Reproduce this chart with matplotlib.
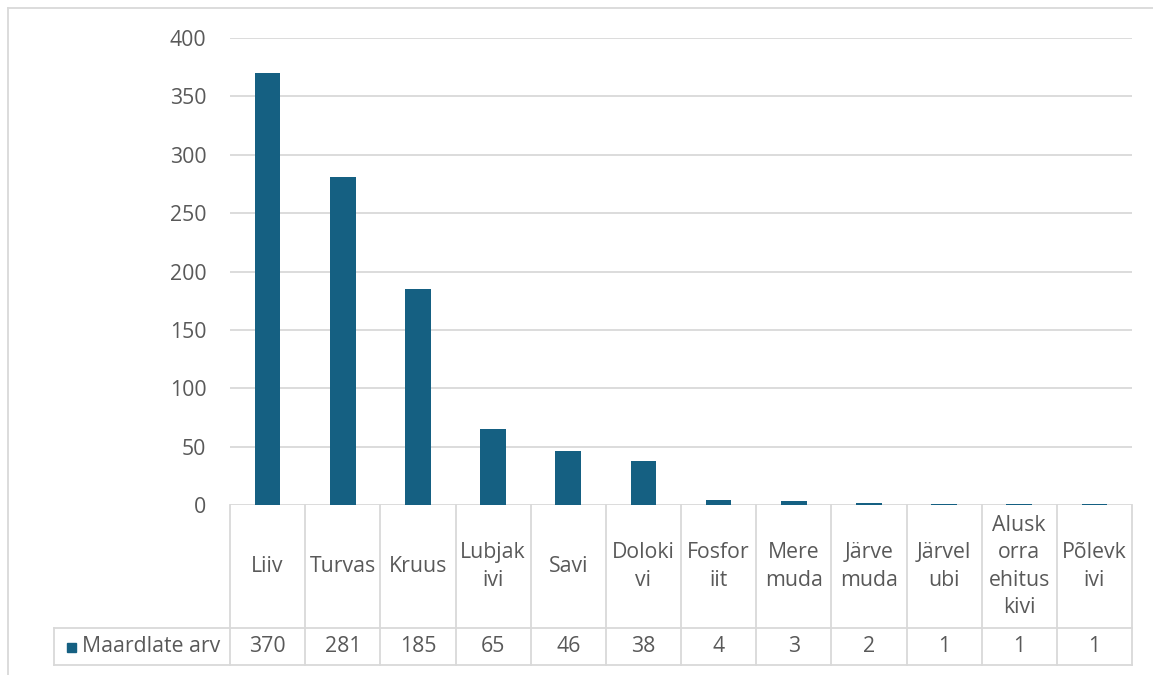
import matplotlib
matplotlib.use("Agg")
import matplotlib.pyplot as plt
from matplotlib.lines import Line2D
from matplotlib.patches import Rectangle

categories = ["Liiv", "Turvas", "Kruus", "Lubjak\nivi", "Savi", "Doloki\nvi", "Fosfor\niit",
              "Mere\nmuda", "Järve\nmuda", "Järvel\nubi", "Alusk\norra\nehitus\nkivi", "Põlevk\nivi"]
values = [370, 281, 185, 65, 46, 38, 4, 3, 2, 1, 1, 1]
series_name = "Maardlate arv"
yticks = [0, 50, 100, 150, 200, 250, 300, 350, 400]

W, H = 1153, 675
BAR = "#156082"
GRID = "#D9D9D9"
TXT = "#595959"
FONT = "Open Sans"
FS = 15.3

fig = plt.figure(figsize=(W / 100, H / 100), dpi=100)

def fx(px):
    return px / W

def fy(py):
    return 1 - py / H

left, right, top, bottom = 230, 1132, 38, 505
ax = fig.add_axes([fx(left), fy(bottom), fx(right) - fx(left), fy(top) - fy(bottom)])
n = len(categories)
x = list(range(n))
ax.bar(x, values, width=0.34, color=BAR, zorder=3)
ax.set_xlim(-0.5, n - 0.5)
ax.set_ylim(0, 400)
ax.set_yticks(yticks)
ax.set_yticklabels([str(t) for t in yticks], fontsize=FS, color=TXT, family=FONT)
ax.tick_params(axis="y", length=0, pad=17)
ax.set_xticks([])
for s in ax.spines.values():
    s.set_visible(False)
ax.grid(axis="y", color=GRID, linewidth=1.3, zorder=0)
ax.set_axisbelow(True)

# Outer chart border
fig.add_artist(Line2D([fx(8), fx(8)], [fy(8), fy(675)], color=GRID, lw=1.3))
fig.add_artist(Line2D([fx(8), fx(1153)], [fy(8), fy(8)], color=GRID, lw=1.3))

# Data table
row_top, row_mid, row_bot = 505, 628, 665
leg_left = 54
colw = (right - left) / n
for i in range(n + 1):
    xv = left + i * colw
    fig.add_artist(Line2D([fx(xv), fx(xv)], [fy(row_top), fy(row_bot)], color=GRID, lw=1.3))
fig.add_artist(Line2D([fx(leg_left), fx(right)], [fy(row_mid), fy(row_mid)], color=GRID, lw=1.3))
fig.add_artist(Line2D([fx(leg_left), fx(right)], [fy(row_bot), fy(row_bot)], color=GRID, lw=1.3))
fig.add_artist(Line2D([fx(leg_left), fx(leg_left)], [fy(row_mid), fy(row_bot)], color=GRID, lw=1.3))

for i, (c, v) in enumerate(zip(categories, values)):
    cx = left + (i + 0.5) * colw
    fig.text(fx(cx), fy((row_top + row_mid) / 2), c, ha="center", va="center",
             fontsize=FS, color=TXT, family=FONT, linespacing=1.38)
    fig.text(fx(cx), fy((row_mid + row_bot) / 2), str(v), ha="center", va="center",
             fontsize=FS, color=TXT, family=FONT)

# Legend key in table
fig.add_artist(Rectangle((fx(67), fy(652)), fx(9), fy(643) - fy(652), color=BAR))
fig.text(fx(82), fy((row_mid + row_bot) / 2), series_name, ha="left", va="center",
         fontsize=FS, color=TXT, family=FONT)

fig.savefig("out.png", dpi=100)
